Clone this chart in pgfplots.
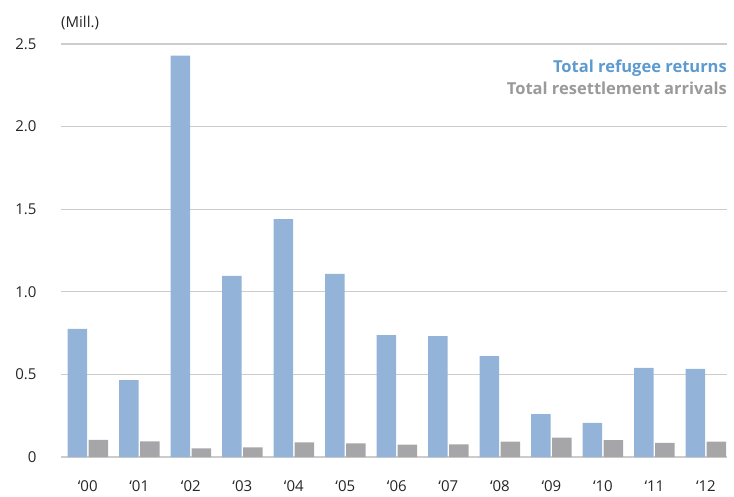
\documentclass[border=0pt]{standalone}
\usepackage{fontspec}
\setmainfont{Open Sans}
\usepackage{pgfplots}
\pgfplotsset{compat=1.18}
\definecolor{retblue}{HTML}{93B4D8}
\definecolor{resgray}{HTML}{A6A6A9}
\definecolor{legblue}{HTML}{5D9BCF}
\definecolor{leggray}{HTML}{9A9A9A}
\definecolor{gridc}{HTML}{CCCCCC}
\begin{document}
\begin{tikzpicture}
\begin{axis}[
    scale only axis,
    width=666pt, height=413pt,
    xmin=-0.52, xmax=12.41,
    ymin=0, ymax=2.5,
    ytick={0,0.5,1.0,1.5,2.0,2.5},
    yticklabels={0,0.5,1.0,1.5,2.0,2.5},
    xtick={0,...,12},
    xticklabels={‘00,‘01,‘02,‘03,‘04,‘05,‘06,‘07,‘08,‘09,‘10,‘11,‘12},
    axis line style={draw=none},
    major tick length=0pt,
    ymajorgrids,
    grid style={gridc, line width=1.2pt},
    ticklabel style={font=\fontsize{15}{17}\selectfont, text=black!85},
    yticklabel style={anchor=east, xshift=-21pt},
    xticklabel style={anchor=north, yshift=-20pt},
    /pgf/number format/assume math mode=true,
    bar width=19.5pt,
    clip=false,
]
\addplot[ybar, fill=retblue, draw=none, bar shift=-10.5pt] coordinates {
(0,0.775) (1,0.466) (2,2.43) (3,1.096) (4,1.44) (5,1.108) (6,0.738)
(7,0.732) (8,0.611) (9,0.26) (10,0.206) (11,0.539) (12,0.533)};
\addplot[ybar, fill=resgray, draw=none, bar shift=10.5pt] coordinates {
(0,0.103) (1,0.094) (2,0.052) (3,0.059) (4,0.089) (5,0.083) (6,0.075)
(7,0.077) (8,0.093) (9,0.117) (10,0.102) (11,0.085) (12,0.093)};
\node[anchor=south west, inner sep=0pt, font=\fontsize{15}{17}\selectfont, text=black!85]
  at ([yshift=14pt]rel axis cs:0,1) {(Mill.)};
\node[anchor=east, inner sep=0pt, font=\fontsize{16.5}{19}\bfseries, text=legblue]
  at ([yshift=-24pt]rel axis cs:1,1) {Total refugee returns};
\node[anchor=east, inner sep=0pt, font=\fontsize{16.5}{19}\bfseries, text=leggray]
  at ([yshift=-44pt]rel axis cs:1,1) {Total resettlement arrivals};
\end{axis}
\pgfresetboundingbox
\path ([xshift=-61pt,yshift=-39pt]current axis.south west) rectangle ([xshift=7pt,yshift=44pt]current axis.north east);
\end{tikzpicture}
\end{document}
